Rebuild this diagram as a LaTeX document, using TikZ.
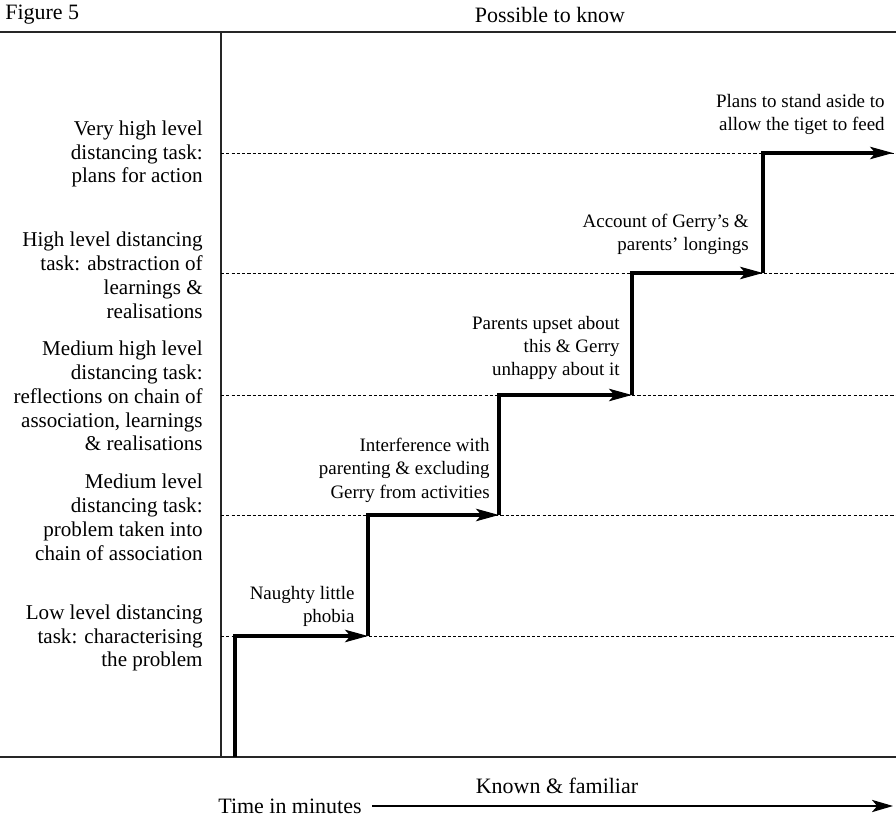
\documentclass[tikz,border=0pt]{standalone}
\usepackage{fontspec}
\setmainfont{Liberation Serif}
\usetikzlibrary{arrows.meta}
\tikzstyle{level} = [anchor=east, align=right, inner sep=0pt, font=\fontsize{12}{13.6}\selectfont]
\tikzstyle{event} = [anchor=north east, align=right, inner sep=0pt, font=\fontsize{10.8}{13.2}\selectfont]
\tikzstyle{caption} = [inner sep=0pt, font=\fontsize{12.5}{14}\selectfont]
\tikzstyle{grid} = [dash pattern=on 1.8pt off 1.2pt, line width=0.4pt]
\tikzstyle{frame} = [line width=0.6pt, draw=black!85]
\tikzstyle{arrow} = [line width=1.9pt, -{Stealth[length=13pt,width=7pt,inset=3pt]}]

\begin{document}
\begin{tikzpicture}[x=0.02cm, y=-0.02cm]
    \useasboundingbox (0,0) rectangle (896,817);

    % frame
    \node (fig) [caption, anchor=west] at (5,15) {Figure 5};
    \node (top) [caption] at (550,15) {Possible to know};
    \node (bottom) [caption] at (557,786) {Known \& familiar};
    \node (time) [caption, anchor=west] at (218,806) {Time in minutes};
    \coordinate (timeend) at (893,806);
    \draw [frame] (0,32) -- (896,32);
    \draw [frame] (0,757) -- (896,757);
    \draw [frame] (221,32) -- (221,757);
    \draw [line width=0.7pt, -{Stealth[length=12pt,width=7pt,inset=3pt]}] ([xshift=6pt]time.east) -- (timeend);

    % levels
    \node (veryhigh) [level] at (203,154) {Very high level\\distancing task:\\plans for action};
    \node (high) [level] at (203,275) {High level distancing\\task: abstraction of\\learnings \&\\realisations};
    \node (medhigh) [level] at (203,396) {Medium high level\\distancing task:\\reflections on chain of\\association, learnings\\\& realisations};
    \node (medium) [level] at (203,517) {Medium level\\distancing task:\\problem taken into\\chain of association};
    \node (low) [level] at (203,638) {Low level distancing\\task: characterising\\the problem};

    \draw [grid] (221,153) -- (896,153);
    \draw [grid] (221,273) -- (896,273);
    \draw [grid] (221,395) -- (896,395);
    \draw [grid] (221,515) -- (896,515);
    \draw [grid] (221,636) -- (896,636);

    % staircase
    \coordinate (start) at (235,757);
    \coordinate (s1) at (368,636);
    \coordinate (s2) at (499,515);
    \coordinate (s3) at (632,395);
    \coordinate (s4) at (763,273);
    \coordinate (s5) at (893,153);
    \draw [arrow] (start) |- (s1);
    \draw [arrow] (s1) |- (s2);
    \draw [arrow] (s2) |- (s3);
    \draw [arrow] (s3) |- (s4);
    \draw [arrow] (s4) |- (s5);

    \node (naughty) [event] at (355,586) {Naughty little\\phobia};
    \node (interfere) [event] at (490,438) {Interference with\\parenting \& excluding\\Gerry from activities};
    \node (upset) [event] at (620,316) {Parents upset about\\this \& Gerry\\unhappy about it};
    \node (account) [event] at (749,214) {Account of Gerry’s \&\\parents’ longings};
    \node (plans) [event] at (885,94) {Plans to stand aside to\\allow the tiget to feed};
\end{tikzpicture}
\end{document}
